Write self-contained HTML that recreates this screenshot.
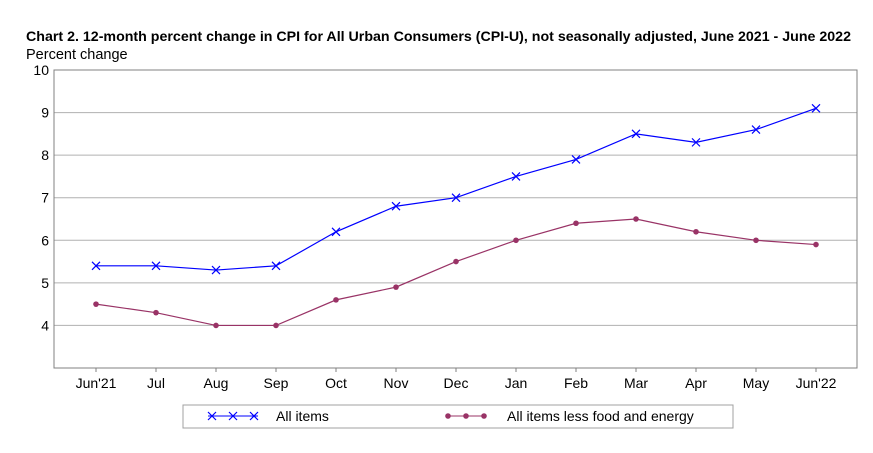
<!DOCTYPE html>
<html><head><meta charset="utf-8"><style>
body{margin:0;background:#fff;width:873px;height:448px;overflow:hidden;font-family:"Liberation Sans",sans-serif}
</style></head><body>
<svg width="873" height="448" font-family="Liberation Sans, sans-serif">
<text x="26" y="41" font-size="14" font-weight="bold" fill="#000" textLength="825" lengthAdjust="spacingAndGlyphs">Chart 2. 12-month percent change in CPI for All Urban Consumers (CPI-U), not seasonally adjusted, June 2021 - June 2022</text>
<text x="26" y="59" font-size="14.5" fill="#000">Percent change</text>
<g id="grid"></g>
<rect x="54" y="70" width="803" height="298" fill="none" stroke="#808080"/>
<g id="marks"></g>
<rect x="183" y="405" width="550" height="23" fill="#fff" stroke="#a0a0a0"/>
<g>
<line x1="208" y1="416" x2="258" y2="416" stroke="#0000ff"/>
<path d="M208,412L216,420M208,420L216,412M229,412L237,420M229,420L237,412M250,412L258,420M250,420L258,412" stroke="#0000ff" stroke-width="1.2"/>
<text x="276" y="421" font-size="14">All items</text>
</g>
<g>
<line x1="446" y1="416" x2="486" y2="416" stroke="#993366"/>
<circle cx="448" cy="416" r="2.8" fill="#993366"/><circle cx="466" cy="416" r="2.8" fill="#993366"/><circle cx="484" cy="416" r="2.8" fill="#993366"/>
<text x="507" y="421" font-size="14">All items less food and energy</text>
</g>
</svg>
<script>
const categories=["Jun'21","Jul","Aug","Sep","Oct","Nov","Dec","Jan","Feb","Mar","Apr","May","Jun'22"];
const allItems=[5.4,5.4,5.3,5.4,6.2,6.8,7.0,7.5,7.9,8.5,8.3,8.6,9.1];
const coreItems=[4.5,4.3,4.0,4.0,4.6,4.9,5.5,6.0,6.4,6.5,6.2,6.0,5.9];
const yTicks=[4,5,6,7,8,9,10];
const NS="http://www.w3.org/2000/svg";
const x=i=>96+i*60;
const y=v=>368-(v-3)*(298/7);
const grid=document.getElementById('grid'),marks=document.getElementById('marks');
function mk(tag,attrs,parent,txt){const e=document.createElementNS(NS,tag);for(const k in attrs)e.setAttribute(k,attrs[k]);if(txt!==undefined)e.textContent=txt;parent.appendChild(e);return e;}
yTicks.forEach(t=>{
 const l=mk('line',{x1:54,x2:857,y1:y(t),y2:y(t),stroke:'#b0b0b0'},grid);
 
 
 const tx=mk('text',{x:49,y:y(t)+5,'font-size':14,'text-anchor':'end'},grid,t);
 
 
});
categories.forEach((c,i)=>{
 mk('line',{x1:x(i),x2:x(i),y1:368,y2:372,stroke:'#808080'},grid);
 const tx=mk('text',{x:x(i),y:388,'font-size':14,'text-anchor':'middle'},grid,c);
 
 
});
const p1=mk('polyline',{points:allItems.map((v,i)=>x(i)+','+y(v)).join(' '),fill:'none',stroke:'#0000ff','stroke-width':1.2},marks);


allItems.forEach((v,i)=>{
 const g=mk('path',{d:`M${x(i)-4},${y(v)-4}L${x(i)+4},${y(v)+4}M${x(i)-4},${y(v)+4}L${x(i)+4},${y(v)-4}`,stroke:'#0000ff','stroke-width':1.2},marks);
 
 
});
const p2=mk('polyline',{points:coreItems.map((v,i)=>x(i)+','+y(v)).join(' '),fill:'none',stroke:'#993366','stroke-width':1.2},marks);


coreItems.forEach((v,i)=>{
 const c=mk('circle',{cx:x(i),cy:y(v),r:2.8,fill:'#993366'},marks);
 
 
});
</script>
</body></html>
